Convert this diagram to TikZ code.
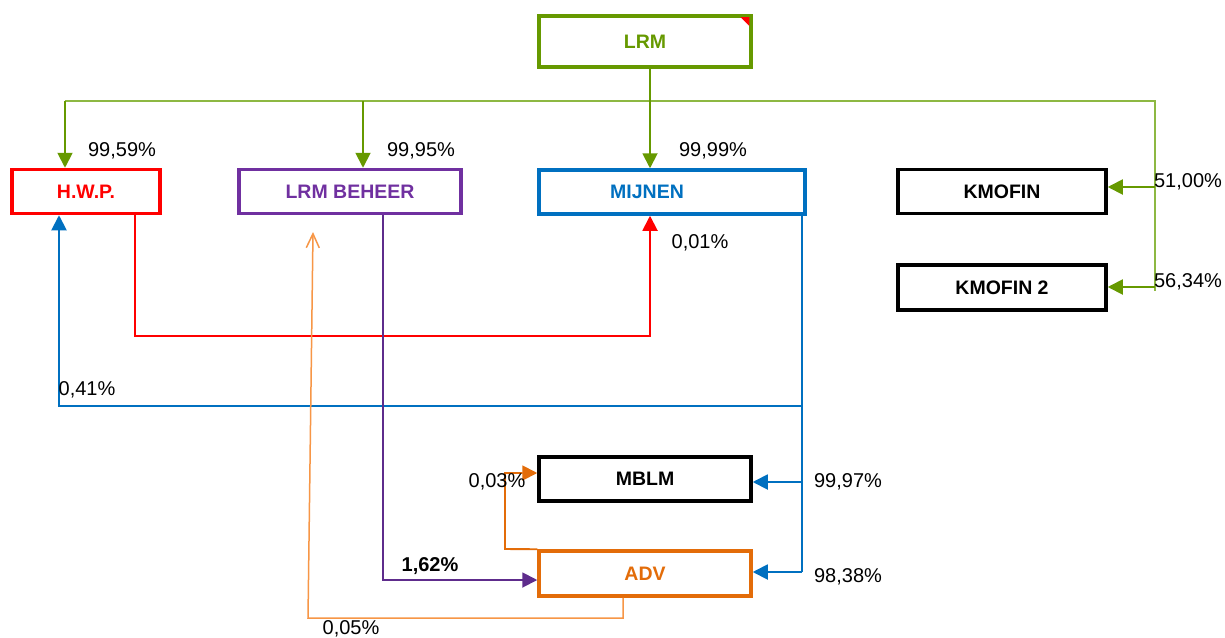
\documentclass[tikz,border=0pt]{standalone}
\usepackage{fontspec}
\setmainfont{Liberation Sans}
\usetikzlibrary{arrows.meta}
\definecolor{cgreen}{HTML}{669900}
\definecolor{cbus}{HTML}{8DB843}
\definecolor{cred}{HTML}{FF0000}
\definecolor{cpurple}{HTML}{7030A0}
\definecolor{cpurpleline}{HTML}{5E2C8C}
\definecolor{cblue}{HTML}{0070C0}
\definecolor{corange}{HTML}{E36C09}
\definecolor{clorange}{HTML}{F79646}
\tikzset{
  box/.style={draw, line width=3.5pt, fill=white, inner sep=0pt, font=\fontsize{19.5}{21}\selectfont\bfseries},
  pct/.style={inner sep=0pt, font=\fontsize{20}{22}\selectfont, text=black},
  conn/.style={line width=1.9pt},
  tri/.style={-{Triangle[width=15pt,length=15pt]}},
  openarr/.style={-{Straight Barb[width=13pt,length=14pt,line width=1.5pt]}}
}
\begin{document}
\begin{tikzpicture}[x=1pt,y=-1pt]
\useasboundingbox[fill=white] (0,0) rectangle (1225,637);

% boxes
\node[box, draw=cgreen, text=cgreen, minimum width=212pt, minimum height=51pt] (lrm) at (645,41.5) {LRM};
\fill[cred] (740.5,17.2) -- (749.4,17.2) -- (749.4,26) -- cycle;
\node[box, draw=cred, text=cred, minimum width=148pt, minimum height=44pt] (hwp) at (86,191.5) {H.W.P.};
\node[box, draw=cpurple, text=cpurple, minimum width=222pt, minimum height=44pt] (beheer) at (350,191.5) {LRM BEHEER};
\node[box, draw=cblue, minimum width=266pt, minimum height=44pt,
  label={[text=cblue, font=\fontsize{19.5}{21}\selectfont\bfseries, xshift=-25pt]center:MIJNEN}] (mijnen) at (672,192) {};
\node[box, draw=black, minimum width=208pt, minimum height=44pt] (kmofin) at (1002,191.5) {KMOFIN};
\node[box, draw=black, minimum width=208pt, minimum height=45pt] (kmofin2) at (1002,287.5) {KMOFIN 2};
\node[box, draw=black, minimum width=212pt, minimum height=44pt] (mblm) at (645,479) {MBLM};
\node[box, draw=corange, text=corange, minimum width=212pt, minimum height=45pt] (adv) at (645,573.5) {ADV};

% green bus
\coordinate (gl) at (65,101);
\coordinate (gm) at (363,101);
\coordinate (gr) at (1155,101);
\coordinate (gk1) at (1155,187);
\coordinate (gk2) at (1155,287);
\coordinate (gbot) at (1155,291);
\draw[conn, cbus, line width=1.5pt] (gl) -- (gr) -- (gbot);
\draw[conn, cgreen, tri] (gl) -- (gl |- hwp.north);
\draw[conn, cgreen, tri] (gm) -- (gm |- beheer.north);
\draw[conn, cgreen, tri] ([xshift=5pt]lrm.south) -- ([xshift=5pt]lrm.south |- mijnen.north);
\draw[conn, cgreen, tri] (gk1) -- (gk1 -| kmofin.east);
\draw[conn, cgreen, tri] (gk2) -- (gk2 -| kmofin2.east);

% red
\coordinate (r1) at (135,336);
\coordinate (r2) at (650,336);
\draw[conn, cred, tri] (r1 |- hwp.south) -- (r1) -- (r2) -- (r2 |- mijnen.south);

% blue
\coordinate (b1) at (59,406);
\coordinate (b2) at (802,406);
\coordinate (b3) at (802,482);
\coordinate (b4) at (802,572);
\draw[conn, cblue] (b2 |- mijnen.south) -- (b4);
\draw[conn, cblue, tri] (b2) -- (b1) -- (b1 |- hwp.south);
\draw[conn, cblue, tri] (b3) -- (b3 -| mblm.east);
\draw[conn, cblue, tri] (b4) -- (b4 -| adv.east);

% purple
\coordinate (p1) at (383,580);
\draw[conn, cpurpleline, tri] (p1 |- beheer.south) -- (p1) -- (p1 -| adv.west);

% dark orange
\coordinate (o1) at (505,549);
\coordinate (o2) at (505,473);
\draw[conn, corange, tri] (adv.north west) -- (o1) -- (o2) -- (o2 -| mblm.west);

% light orange
\coordinate (l1) at (623,618);
\coordinate (l2) at (308,618);
\coordinate (l3) at (313,232);
\draw[conn, clorange, line width=1.5pt, openarr] (l1 |- adv.south) -- (l1) -- (l2) -- (l3);

% percentages
\node[pct] (t1) at (122,151) {99,59\%};
\node[pct] (t2) at (421,151) {99,95\%};
\node[pct] (t3) at (713,151) {99,99\%};
\node[pct] (t4) at (700,243) {0,01\%};
\node[pct] (t5) at (1188,182) {51,00\%};
\node[pct] (t6) at (1188,282) {56,34\%};
\node[pct] (t7) at (87,390) {0,41\%};
\node[pct] (t8) at (497,482) {0,03\%};
\node[pct] (t9) at (848,482) {99,97\%};
\node[pct] (t10) at (848,577) {98,38\%};
\node[pct, font=\fontsize{20}{22}\selectfont\bfseries] (t11) at (430,566) {1,62\%};
\node[pct] (t12) at (351,629) {0,05\%};
\end{tikzpicture}
\end{document}
